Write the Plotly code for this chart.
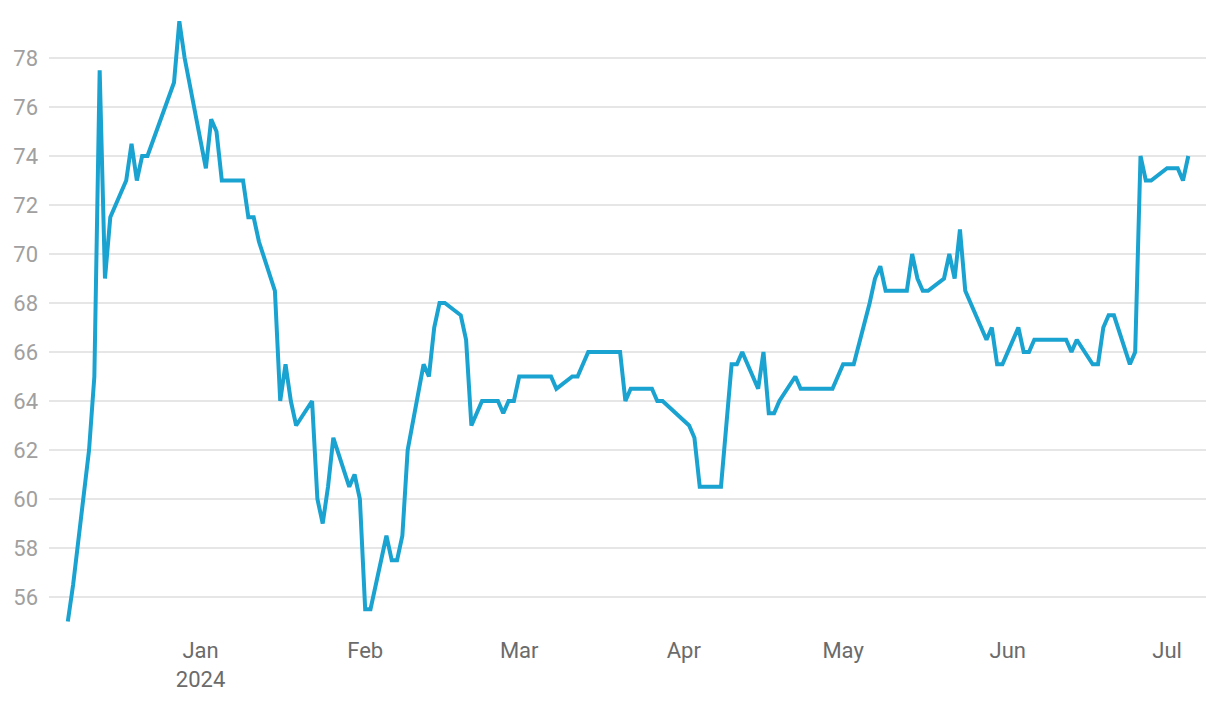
import plotly.graph_objects as go

dates = [
    "2023-12-07", "2023-12-08", "2023-12-11", "2023-12-12", "2023-12-13", "2023-12-14", "2023-12-15",
    "2023-12-18", "2023-12-19", "2023-12-20", "2023-12-21", "2023-12-22", "2023-12-27", "2023-12-28",
    "2023-12-29", "2024-01-02", "2024-01-03", "2024-01-04", "2024-01-05", "2024-01-08", "2024-01-09",
    "2024-01-10", "2024-01-11", "2024-01-12", "2024-01-15", "2024-01-16", "2024-01-17", "2024-01-18",
    "2024-01-19", "2024-01-22", "2024-01-23", "2024-01-24", "2024-01-25", "2024-01-26", "2024-01-29",
    "2024-01-30", "2024-01-31", "2024-02-01", "2024-02-02", "2024-02-05", "2024-02-06", "2024-02-07",
    "2024-02-08", "2024-02-09", "2024-02-12", "2024-02-13", "2024-02-14", "2024-02-15", "2024-02-16",
    "2024-02-19", "2024-02-20", "2024-02-21", "2024-02-22", "2024-02-23", "2024-02-26", "2024-02-27",
    "2024-02-28", "2024-02-29", "2024-03-01", "2024-03-04", "2024-03-05", "2024-03-06", "2024-03-07",
    "2024-03-08", "2024-03-11", "2024-03-12", "2024-03-13", "2024-03-14", "2024-03-15", "2024-03-18",
    "2024-03-19", "2024-03-20", "2024-03-21", "2024-03-22", "2024-03-25", "2024-03-26", "2024-03-27",
    "2024-03-28", "2024-04-02", "2024-04-03", "2024-04-04", "2024-04-05", "2024-04-08", "2024-04-09",
    "2024-04-10", "2024-04-11", "2024-04-12", "2024-04-15", "2024-04-16", "2024-04-17", "2024-04-18",
    "2024-04-19", "2024-04-22", "2024-04-23", "2024-04-24", "2024-04-25", "2024-04-26", "2024-04-29",
    "2024-04-30", "2024-05-01", "2024-05-02", "2024-05-03", "2024-05-06", "2024-05-07", "2024-05-08",
    "2024-05-09", "2024-05-10", "2024-05-13", "2024-05-14", "2024-05-15", "2024-05-16", "2024-05-17",
    "2024-05-20", "2024-05-21", "2024-05-22", "2024-05-23", "2024-05-24", "2024-05-27", "2024-05-28",
    "2024-05-29", "2024-05-30", "2024-05-31", "2024-06-03", "2024-06-04", "2024-06-05", "2024-06-06",
    "2024-06-07", "2024-06-10", "2024-06-11", "2024-06-12", "2024-06-13", "2024-06-14", "2024-06-17",
    "2024-06-18", "2024-06-19", "2024-06-20", "2024-06-21", "2024-06-24", "2024-06-25", "2024-06-26",
    "2024-06-27", "2024-06-28", "2024-07-01", "2024-07-02", "2024-07-03", "2024-07-04", "2024-07-05",
]

values = [
    55.0, 56.5, 62.0, 65.0, 77.5, 69.0, 71.5,
    73.0, 74.5, 73.0, 74.0, 74.0, 77.0, 79.5,
    78.0, 73.5, 75.5, 75.0, 73.0, 73.0, 73.0,
    71.5, 71.5, 70.5, 68.5, 64.0, 65.5, 64.0,
    63.0, 64.0, 60.0, 59.0, 60.5, 62.5, 60.5,
    61.0, 60.0, 55.5, 55.5, 58.5, 57.5, 57.5,
    58.5, 62.0, 65.5, 65.0, 67.0, 68.0, 68.0,
    67.5, 66.5, 63.0, 63.5, 64.0, 64.0, 63.5,
    64.0, 64.0, 65.0, 65.0, 65.0, 65.0, 65.0,
    64.5, 65.0, 65.0, 65.5, 66.0, 66.0, 66.0,
    66.0, 66.0, 64.0, 64.5, 64.5, 64.5, 64.0,
    64.0, 63.0, 62.5, 60.5, 60.5, 60.5, 63.0,
    65.5, 65.5, 66.0, 64.5, 66.0, 63.5, 63.5,
    64.0, 65.0, 64.5, 64.5, 64.5, 64.5, 64.5,
    65.0, 65.5, 65.5, 65.5, 68.0, 69.0, 69.5,
    68.5, 68.5, 68.5, 70.0, 69.0, 68.5, 68.5,
    69.0, 70.0, 69.0, 71.0, 68.5, 67.0, 66.5,
    67.0, 65.5, 65.5, 67.0, 66.0, 66.0, 66.5,
    66.5, 66.5, 66.5, 66.5, 66.0, 66.5, 65.5,
    65.5, 67.0, 67.5, 67.5, 65.5, 66.0, 74.0,
    73.0, 73.0, 73.5, 73.5, 73.5, 73.0, 74.0,
]

x_tickvals = ["2024-01-01", "2024-02-01", "2024-03-01", "2024-04-01", "2024-05-01", "2024-06-01", "2024-07-01"]
x_ticktext = ["Jan<br>2024", "Feb", "Mar", "Apr", "May", "Jun", "Jul"]
y_tickvals = [56, 58, 60, 62, 64, 66, 68, 70, 72, 74, 76, 78]

fig = go.Figure()
fig.add_trace(go.Scatter(
    x=dates, y=values, mode="lines",
    line=dict(color="#1aa3d0", width=4),
    showlegend=False,
))

fig.update_layout(
    width=1220, height=702,
    margin=dict(l=41, r=22, t=2, b=75),
    paper_bgcolor="white", plot_bgcolor="white",
    font=dict(family="Roboto", size=22),
)
fig.update_xaxes(
    type="date",
    range=["2023-12-03 11:00", "2024-07-08 08:00"],
    tickvals=x_tickvals, ticktext=x_ticktext,
    showgrid=False, zeroline=False, showline=False, ticks="",
    tickfont=dict(color="#6b6b6b", size=22),
    automargin=False,
)
fig.update_yaxes(
    range=[54.45, 79.96],
    tickvals=y_tickvals,
    showgrid=True, gridcolor="#e6e6e6", gridwidth=1.5,
    zeroline=False, showline=False, ticks="",
    tickfont=dict(color="#a0a0a0", size=22),
    ticklabelstandoff=10,
    automargin=False,
)

fig.write_html("out.html")
